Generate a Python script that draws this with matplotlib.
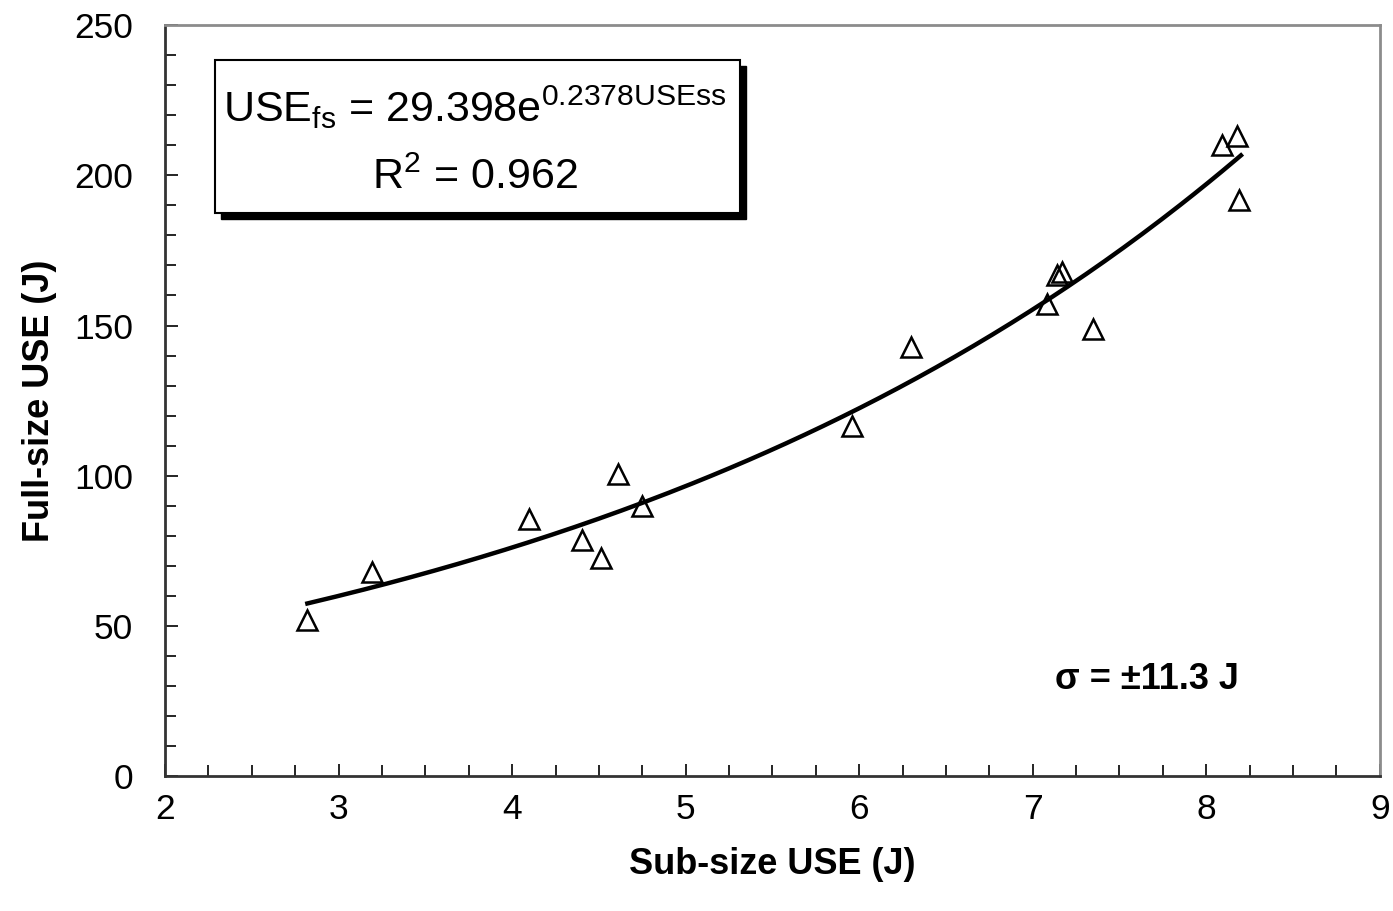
import numpy as np
import matplotlib
matplotlib.use('Agg')
import matplotlib.pyplot as plt
from matplotlib.patches import Rectangle
from matplotlib.ticker import MultipleLocator

plt.rcParams['font.family'] = ['Liberation Sans', 'DejaVu Sans']
plt.rcParams['mathtext.fontset'] = 'custom'
plt.rcParams['mathtext.rm'] = 'Liberation Sans'
plt.rcParams['mathtext.it'] = 'Liberation Sans'

# measured points (sub-size USE, full-size USE)
sub_use = [2.82, 3.19, 4.10, 4.40, 4.51, 4.61, 4.75, 5.96, 6.30,
           7.08, 7.14, 7.17, 7.35, 8.09, 8.18, 8.19]
full_use = [52.0, 68.0, 85.7, 78.7, 72.7, 100.7, 90.0, 116.7, 142.7,
            157.0, 166.7, 167.7, 148.7, 210.0, 213.0, 191.7]

# exponential fit USEfs = a * exp(b * USEss)
fit_a = 29.398
fit_b = 0.2378
fit_range = (2.82, 8.2)

fig = plt.figure(figsize=(13.93, 9.11), dpi=100)
ax = fig.add_axes([0.1185, 0.148, 0.872, 0.8245])

xf = np.linspace(fit_range[0], fit_range[1], 200)
ax.plot(xf, fit_a * np.exp(fit_b * xf), color='black', lw=3.2, zorder=2)
ax.plot(sub_use, full_use, linestyle='none', marker='^', ms=15,
        mfc='none', mec='black', mew=1.8, zorder=3)

ax.set_xlim(2, 9)
ax.set_ylim(0, 250)
ax.xaxis.set_major_locator(MultipleLocator(1))
ax.xaxis.set_minor_locator(MultipleLocator(0.25))
ax.yaxis.set_major_locator(MultipleLocator(50))
ax.yaxis.set_minor_locator(MultipleLocator(10))
ax.tick_params(which='both', direction='in', top=False, right=False,
               labelsize=25.5, width=1.2, color='black')
ax.tick_params(which='major', length=9)
ax.tick_params(which='minor', length=8)
ax.tick_params(axis='x', pad=12)
ax.tick_params(axis='y', pad=23)

for s in ['left', 'bottom']:
    ax.spines[s].set_linewidth(2)
    ax.spines[s].set_color('#333333')
for s in ['top', 'right']:
    ax.spines[s].set_linewidth(2)
    ax.spines[s].set_color('#8c8c8c')

ax.set_xlabel('Sub-size USE (J)', fontsize=26, fontweight='bold', labelpad=15)
ax.set_ylabel('Full-size USE (J)', fontsize=26, fontweight='bold', labelpad=12)

# equation box with shadow
bx0, by0, bw, bh = 215, 60, 525, 153
fh = 911
shadow = Rectangle((bx0 + 6, fh - by0 - bh - 6), bw, bh, transform=None,
                   facecolor='black', edgecolor='black', zorder=4)
box = Rectangle((bx0, fh - by0 - bh), bw, bh, transform=None,
                facecolor='white', edgecolor='black', lw=1.5, zorder=5)
fig.patches.extend([shadow, box])

fig.text((bx0 + bw / 2 - 3) / 1393, 1 - 107 / 911,
         r'USE$_{\mathrm{fs}}$ = 29.398e$^{\mathrm{0.2378USEss}}$',
         fontsize=31, ha='center', va='center', zorder=6)
fig.text(475 / 1393, 1 - 178 / 911, r'R$^{\mathrm{2}}$ = 0.962',
         fontsize=31, ha='center', va='center', zorder=6)

ax.text(7.66, 32.3, 'σ = ±11.3 J', fontsize=26, fontweight='bold',
        ha='center', va='center')

fig.savefig('out.png', dpi=100)
